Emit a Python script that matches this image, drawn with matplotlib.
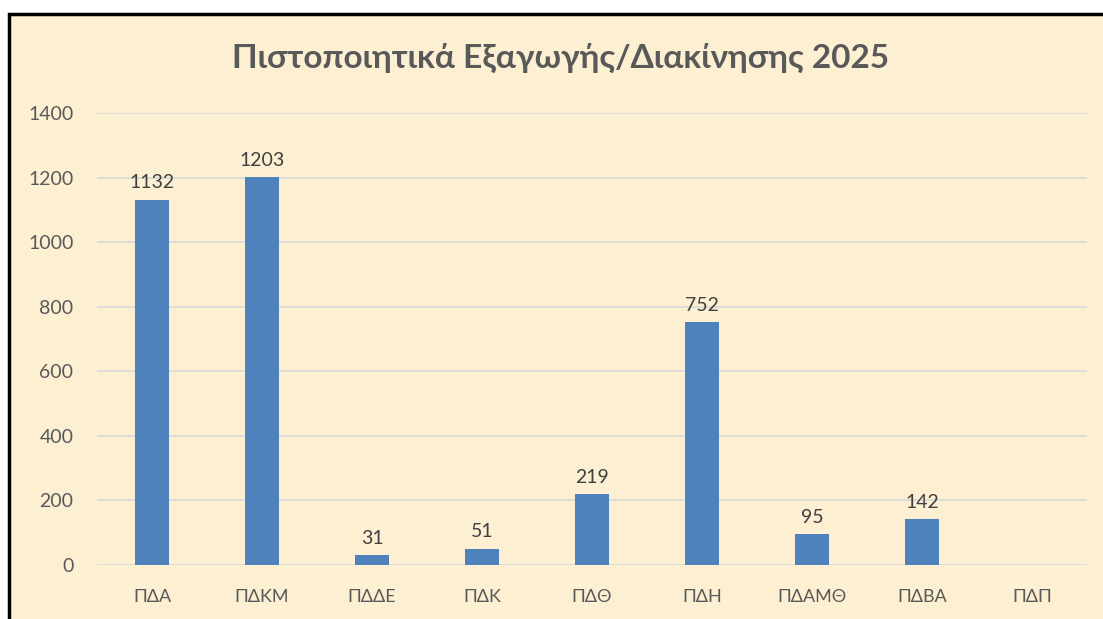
import matplotlib.pyplot as plt
from matplotlib.patches import Rectangle
import numpy as np

# Data
categories = ['ΠΔΑ', 'ΠΔΚΜ', 'ΠΔΔΕ', 'ΠΔΚ', 'ΠΔΘ', 'ΠΔΗ', 'ΠΔΑΜΘ', 'ΠΔΒΑ', 'ΠΔΠ']
values = [1132, 1203, 31, 51, 219, 752, 95, 142, None]
title = 'Πιστοποιητικά Εξαγωγής/Διακίνησης 2025'
yticks = [0, 200, 400, 600, 800, 1000, 1200, 1400]

plt.rcParams['font.family'] = ['Lato', 'DejaVu Sans']

bg = '#FCEFD2'
fig = plt.figure(figsize=(11.03, 6.19), dpi=100)
fig.patch.set_facecolor('white')

# parchment panel with black border (left and top edges visible)
fig.patches.append(Rectangle((9 / 1103, -0.05), 1.1, 1 - 14 / 619 + 0.05,
                             transform=fig.transFigure, facecolor=bg,
                             edgecolor='black', linewidth=2.5, zorder=-5))

ax = fig.add_axes([97 / 1103, 1 - 565 / 619, 990 / 1103, 452 / 619])
ax.set_zorder(2)
ax.set_facecolor('none')

x = np.arange(len(categories))
heights = [v if v is not None else 0 for v in values]
bars = ax.bar(x, heights, width=0.31, color='#4F81BD', zorder=3)
for xi, v in zip(x, values):
    if v is not None:
        ax.text(xi, v + 25, str(v), ha='center', va='bottom',
                fontsize=14, color='#404040')

ax.set_xlim(-0.5, len(categories) - 0.5)
ax.set_ylim(0, 1400)
ax.set_yticks(yticks)
ax.set_xticks(x)
ax.set_xticklabels(categories)
ax.tick_params(axis='both', length=0, colors='#595959')
ax.tick_params(axis='y', pad=17, labelsize=14)
ax.tick_params(axis='x', pad=17, labelsize=13)
ax.grid(axis='y', color='#D9D9D9', linewidth=1.2, zorder=0)
for s in ax.spines.values():
    s.set_visible(False)

fig.text(0.508, 1 - 58 / 619, title, ha='center', va='center',
         fontsize=24, fontweight='bold', color='#595959', zorder=3)

fig.savefig('out.png', dpi=100, facecolor=fig.get_facecolor())
